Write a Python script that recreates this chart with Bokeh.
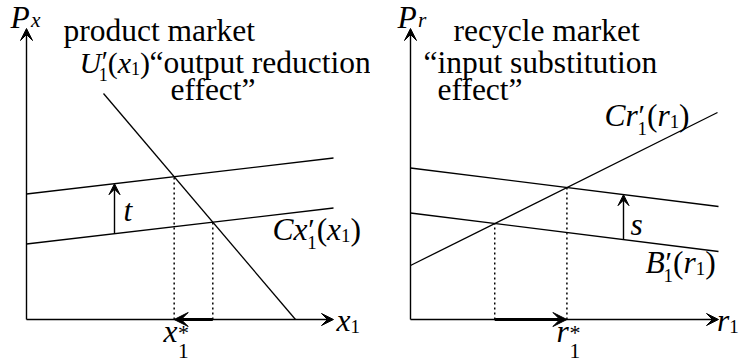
from bokeh.plotting import figure
from bokeh.layouts import row
from bokeh.models import Arrow, VeeHead, Label, Range1d
from bokeh.embed import file_html
from bokeh.resources import INLINE

FONT = "Liberation Serif"
FS = 31.5       # main text size, px
LIFT = 8        # px, lifts glyphs so the given y is the alphabetic baseline

# ---------------- product market ----------------
x_axis_len = 30.7          # length of the quantity axis x1
px_axis_len = 29.1         # length of the price axis Px
cx_ends = [7.55, 11.15]    # Cx'_1(x1) at x1 = 0 and at the axis end
tax_t = 5.0                # vertical shift of the cost curve by t
u_x = [7.7, 26.9]          # U'_1(x1) end points
u_y = [22.6, 0.0]
t_arrow_at = 8.8           # where the "t" shift is marked

# ---------------- recycle market ----------------
r_axis_len = 30.8
pr_axis_len = 29.1
b_ends = [10.65, 6.8]      # B'_1(r1) at r1 = 0 and at the axis end
subsidy_s = 4.5            # vertical shift of B' by s
cr_x = [0.0, 30.7]         # Cr'_1(r1) end points
cr_y = [5.4, 20.7]
s_arrow_at = 21.3


def lin(x0, y0, x1, y1):
    m = (y1 - y0) / (x1 - x0)
    return m, y0 - m * x0


def cross(l1, l2):
    (m1, c1), (m2, c2) = l1, l2
    x = (c2 - c1) / (m1 - m2)
    return x, m1 * x + c1


# advance widths (em) for the pieces of the formula labels
W = {"U": 0.722, "x": 0.444, "P": 0.611, "C": 0.667, "r": 0.389, "B": 0.611,
     "s": 0.389, "t": 0.278, "1": 0.5, "(": 0.333, ")": 0.333, "*": 0.5, "\u2032": 0.28}


def formula(fig, x, y, parts, size=FS):
    """parts: (text, italic, scale, rise_em, advances, kern_em)"""
    off = 0.0
    for text, italic, scale, rise, adv, kern in parts:
        fs = size * scale
        off += kern * size
        fig.add_layout(Label(x=x, y=y, x_offset=off, y_offset=rise * size + LIFT, text=text,
                             text_font=FONT, text_font_size=f"{fs:.1f}px",
                             text_font_style="italic" if italic else "normal",
                             text_baseline="alphabetic", text_color="black"))
        if adv:
            off += sum(W.get(ch, 0.5) for ch in text) * fs


def it(s):
    return (s, True, 1.0, 0.0, True, 0.0)


def rm(s):
    return (s, False, 1.0, 0.0, True, 0.0)


def sub(s, drop=0.2, kern=0.0, scale=0.6):
    return (s, False, scale, -drop, True, kern)


def prime():
    return ("\u2032", False, 0.95, 0.02, False, 0.02)


def star():
    return ("*", False, 0.7, -0.04, False, 0.02)


def text(fig, x, y, s):
    fig.add_layout(Label(x=x, y=y, y_offset=LIFT, text=s, text_font=FONT,
                         text_font_size=f"{FS}px", text_baseline="alphabetic",
                         text_color="black"))


def panel(width, x0):
    p = figure(width=width, height=364, x_range=Range1d(x0, x0 + width / 10),
               y_range=Range1d(-4.5, 31.9), output_backend="svg", toolbar_location=None,
               min_border=0, x_axis_location=None, y_axis_location=None,
               background_fill_color="white", border_fill_color="white")
    p.outline_line_color = None
    p.xgrid.visible = False
    p.ygrid.visible = False
    return p


def arrow(fig, xs, ys, xe, ye, lw=1.4, size=12):
    fig.add_layout(Arrow(x_start=xs, y_start=ys, x_end=xe, y_end=ye, line_width=lw,
                         line_color="black",
                         end=VeeHead(size=size, fill_color="black", line_color="black",
                                     line_width=1)))


# ================= left: product market =================
L = panel(370, -2.6)
arrow(L, 0, 0, x_axis_len, 0)
arrow(L, 0, 0, 0, px_axis_len)

cost = lin(0, cx_ends[0], x_axis_len, cx_ends[1])
cost_t = (cost[0], cost[1] + tax_t)
demand = lin(u_x[0], u_y[0], u_x[1], u_y[1])

L.line([0, x_axis_len], cx_ends, line_color="black", line_width=1.3)
L.line([0, x_axis_len], [v + tax_t for v in cx_ends], line_color="black", line_width=1.3)
L.line(u_x, u_y, line_color="black", line_width=1.3)

xa, ya = cross(cost, demand)
xb, yb = cross(cost_t, demand)
L.line([xa, xa], [0, ya], line_color="black", line_width=1.5, line_dash="2 3")
L.line([xb, xb], [0, yb], line_color="black", line_width=1.5, line_dash="2 3")
arrow(L, xa, 0, xb, 0, lw=3.2, size=14)

y_lo = cost[0] * t_arrow_at + cost[1]
arrow(L, t_arrow_at, y_lo, t_arrow_at, y_lo + tax_t, lw=1.4, size=11)

formula(L, -1.6, 29.4, [it("P"), ("x", True, 0.68, -0.08, True, 0.04)])
text(L, 3.7, 28.1, "product market")
formula(L, 5.3, 24.9, [it("U"), prime(), sub("1", 0.4, -0.1), rm("("), it("x"), sub("1"), rm(")")],
        size=30)
text(L, 12.3, 24.9, "\u201coutput reduction")
text(L, 14.4, 22.2, "effect\u201d")
formula(L, 9.7, 10.1, [it("t")])
formula(L, 24.6, 8.2, [it("C"), it("x"), prime(), sub("1", 0.4, -0.03), rm("("), it("x"),
                       sub("1"), rm(")")])
formula(L, 31.0, -0.9, [it("x"), sub("1")])
formula(L, 13.7, -2.0, [it("x"), star(), sub("1", 0.62, 0.0, 0.68)])

# ================= right: recycle market =================
R = panel(369, -4.0)
arrow(R, 0, 0, r_axis_len, 0)
arrow(R, 0, 0, 0, pr_axis_len)

benefit = lin(0, b_ends[0], r_axis_len, b_ends[1])
benefit_s = (benefit[0], benefit[1] + subsidy_s)
rcost = lin(cr_x[0], cr_y[0], cr_x[1], cr_y[1])

R.line([0, r_axis_len], b_ends, line_color="black", line_width=1.3)
R.line([0, r_axis_len], [v + subsidy_s for v in b_ends], line_color="black", line_width=1.3)
R.line(cr_x, cr_y, line_color="black", line_width=1.3)

ra, rya = cross(benefit, rcost)
rb, ryb = cross(benefit_s, rcost)
R.line([ra, ra], [0, rya], line_color="black", line_width=1.5, line_dash="2 3")
R.line([rb, rb], [0, ryb], line_color="black", line_width=1.5, line_dash="2 3")
arrow(R, ra, 0, rb, 0, lw=3.2, size=14)

yb_lo = benefit[0] * s_arrow_at + benefit[1]
arrow(R, s_arrow_at, yb_lo, s_arrow_at, yb_lo + subsidy_s, lw=1.4, size=11)

formula(R, -1.3, 29.4, [it("P"), ("r", True, 0.68, -0.08, True, 0.04)])
text(R, 4.3, 28.1, "recycle market")
text(R, 1.3, 24.9, "\u201cinput substitution")
text(R, 2.7, 22.2, "effect\u201d")
formula(R, 19.4, 19.6, [it("C"), it("r"), prime(), sub("1", 0.4, -0.03), rm("("), it("r"),
                        sub("1"), rm(")")])
formula(R, 22.0, 8.7, [it("s")])
formula(R, 23.5, 4.9, [it("B"), prime(), sub("1", 0.4, -0.06), rm("("), it("r"), sub("1"),
                       rm(")")])
formula(R, 30.65, -0.9, [it("r"), sub("1")])
formula(R, 14.6, -2.0, [it("r"), star(), sub("1", 0.62, 0.0, 0.68)])

page = row(L, R, spacing=0)
open("out.html", "w").write(file_html(page, INLINE))
